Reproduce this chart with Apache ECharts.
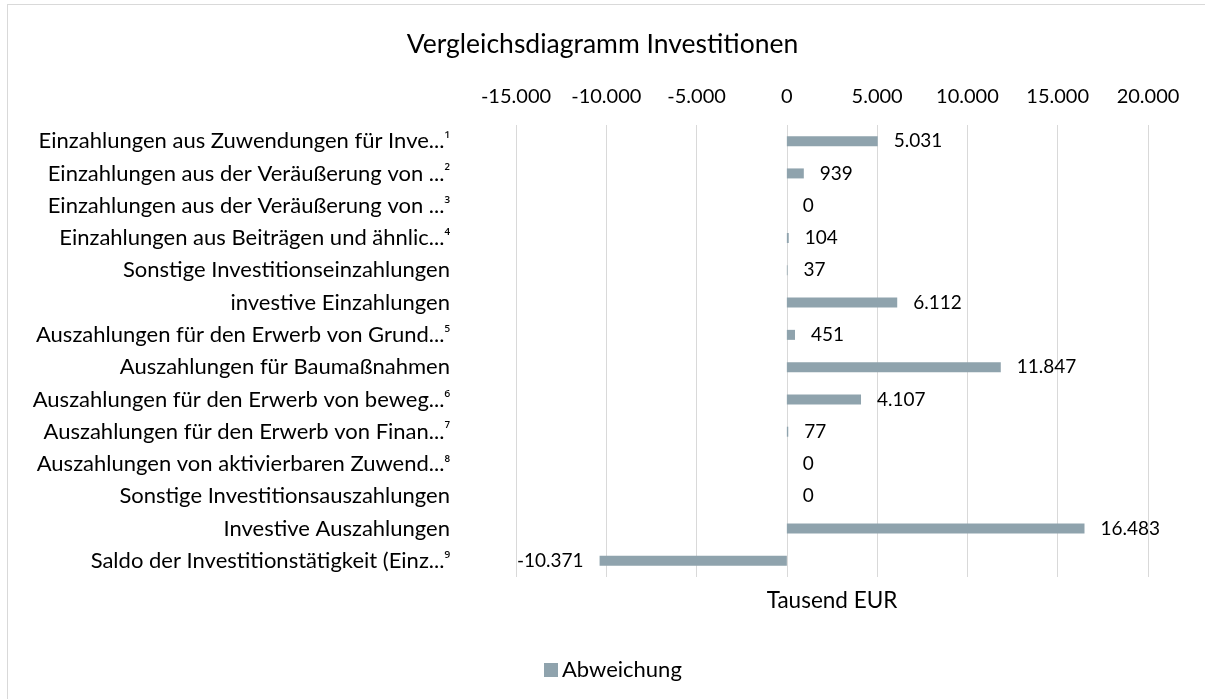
<!DOCTYPE html>
<html>
<head>
<meta charset="utf-8">
<script src="https://cdn.jsdelivr.net/npm/echarts@6/dist/echarts.min.js"></script>
<style>
html,body{margin:0;padding:0;background:#fff;}
#frame{position:absolute;left:7px;top:4px;width:1210px;height:710px;border:1px solid #d9d9d9;box-sizing:border-box;}
#chart{position:absolute;left:0;top:0;width:1205px;height:699px;}
</style>
</head>
<body>
<div id="frame"></div>
<div id="chart"></div>
<script>
const categories = [
  "Einzahlungen aus Zuwendungen für Inve...¹",
  "Einzahlungen aus der Veräußerung von ...²",
  "Einzahlungen aus der Veräußerung von ...³",
  "Einzahlungen aus Beiträgen und ähnlic...⁴",
  "Sonstige Investitionseinzahlungen",
  "investive Einzahlungen",
  "Auszahlungen für den Erwerb von Grund...⁵",
  "Auszahlungen für Baumaßnahmen",
  "Auszahlungen für den Erwerb von beweg...⁶",
  "Auszahlungen für den Erwerb von Finan...⁷",
  "Auszahlungen von aktivierbaren Zuwend...⁸",
  "Sonstige Investitionsauszahlungen",
  "Investive Auszahlungen",
  "Saldo der Investitionstätigkeit (Einz...⁹"
];
const values = [5031, 939, 0, 104, 37, 6112, 451, 11847, 4107, 77, 0, 0, 16483, -10371];
const seriesName = "Abweichung";
const axisMin = -15000;
const axisMax = 20000;
const axisStep = 5000;

function fmt(v){
  const s = Math.abs(Math.round(v)).toString().replace(/\B(?=(\d{3})+(?!\d))/g, ".");
  return (v < 0 ? "-" : "") + s;
}
const SUP = /([¹²³⁴⁵⁶⁷⁸⁹])$/;
function catFmt(s){
  const m = s.match(SUP);
  if (!m) return '{t|' + s + '}';
  return '{t|' + s.slice(0, -1) + '}{s|' + m[1] + '}';
}

const FONT = "Lato, 'Noto Sans', sans-serif";
const chart = echarts.init(document.getElementById('chart'), null, {renderer:'canvas'});
chart.setOption({
  animation:false,
  backgroundColor:'transparent',
  title:{
    text:"Vergleichsdiagramm Investitionen",
    left:'center', top:26,
    textStyle:{fontFamily:FONT, fontSize:26.5, fontWeight:'normal', color:'#000'}
  },
  legend:{
    data:[seriesName],
    left:539, top:654,
    itemWidth:14, itemHeight:14, itemGap:4,
    icon:'rect',
    textStyle:{fontFamily:FONT, fontSize:22, color:'#000', padding:[0,0,0,-1]}
  },
  grid:{left:516, right:57, top:125, bottom:122, containLabel:false},
  xAxis:[{
    type:'value', position:'top',
    min:axisMin, max:axisMax, interval:axisStep,
    axisLine:{show:false}, axisTick:{show:false},
    splitLine:{show:true, lineStyle:{color:'#d9d9d9', width:1}},
    axisLabel:{formatter:fmt, fontFamily:FONT, fontSize:20, color:'#000', margin:18}
  },{
    type:'value', position:'bottom',
    min:axisMin, max:axisMax, interval:axisStep,
    axisLine:{show:false}, axisTick:{show:false}, splitLine:{show:false},
    axisLabel:{show:false},
    name:"Tausend EUR", nameLocation:'middle', nameGap:12,
    nameTextStyle:{fontFamily:FONT, fontSize:22.5, color:'#000', verticalAlign:'top'}
  }],
  yAxis:{
    type:'category', data:categories, inverse:true,
    axisLine:{show:false}, axisTick:{show:false},
    axisLabel:{
      formatter:catFmt, margin:66,
      rich:{
        t:{fontFamily:FONT, fontSize:22, color:'#000', lineHeight:26},
        s:{fontFamily:"'Noto Sans', sans-serif", fontSize:16, color:'#000', lineHeight:26, verticalAlign:'bottom', padding:[0,0,6,0]}
      }
    }
  },
  series:[{
    name:seriesName, type:'bar', xAxisIndex:0,
    barWidth:10,
    itemStyle:{color:'#8fa3ad'},
    data: values.map(v => ({
      value:v,
      label:{position: v < 0 ? 'left' : 'right'}
    })),
    label:{show:true, distance:16, formatter:p => fmt(p.value), fontFamily:FONT, fontSize:19, color:'#000'}
  }]
});
</script>
</body>
</html>
